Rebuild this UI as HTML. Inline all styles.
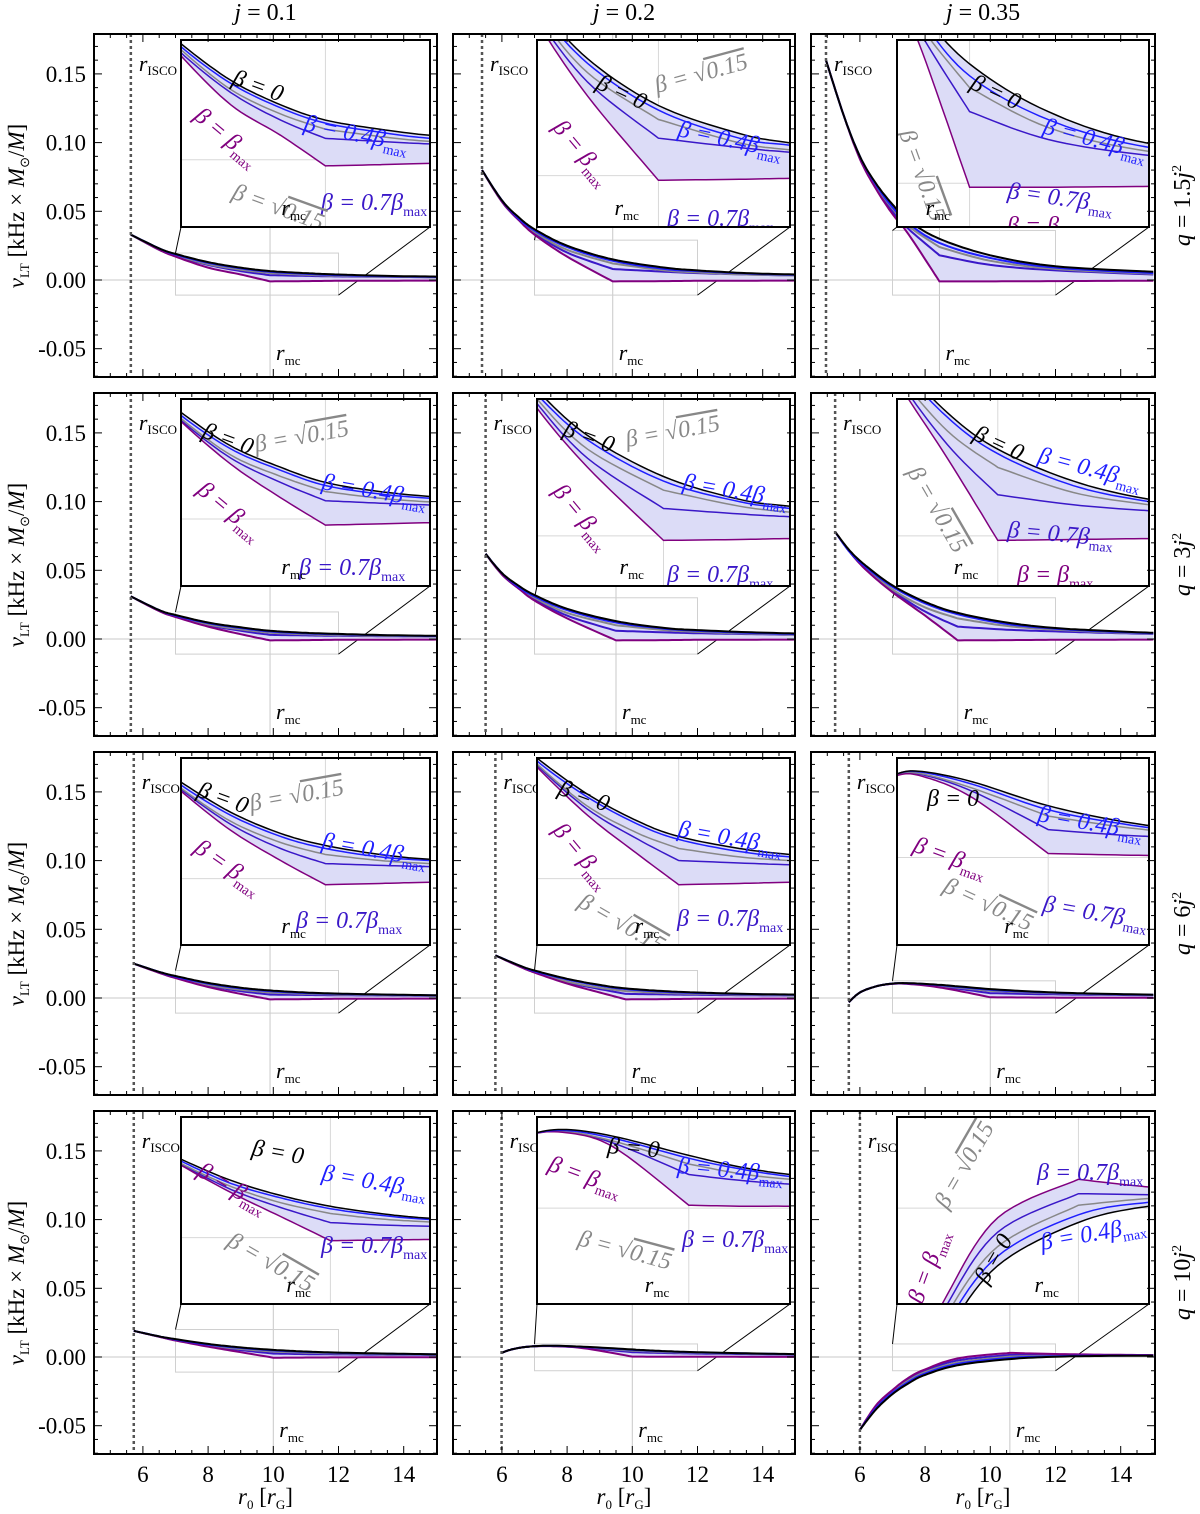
<!DOCTYPE html>
<html><head><meta charset="utf-8"><style>
html,body{margin:0;padding:0;background:#fff;overflow:hidden;width:1200px;height:1514px;}
svg{display:block;}
svg text{font-family:"Liberation Serif","Times New Roman",serif;}
</style></head><body>
<svg id="fig" width="1200" height="1514" viewBox="0 0 1200 1514" overflow="hidden" xmlns="http://www.w3.org/2000/svg"></svg>
<script>
// ---------- data ----------
const colTitles = ["0.1","0.2","0.35"];
const rowTitles = ["1.5","3","6","10"];
const yTickValues = [0.15,0.10,0.05,0.00,-0.05];
const yTickLabels = ["0.15","0.10","0.05","0.00","-0.05"];
const xTickValues = [6,8,10,12,14];
const xTickLabels = ["6","8","10","12","14"];

const P11_r=[5.63,6.5,7,8,9,9.9,11,12,13.5,15];
const P11_black=[.033,.023,.019,.013,.009,.0065,.005,.004,.003,.0025];
const P11_blue=[.033,.023,.0185,.0125,.0085,.006,.0045,.0035,.0027,.0022];
const P11_gray=[.033,.022,.018,.0115,.0075,.005,.0038,.003,.0024,.002];
const P11_dblue=[.033,.022,.0175,.011,.0065,.0035,.003,.0026,.0023,.002];
const P11_purple=[.033,.022,.017,.009,.004,-.001,-.0008,-.0006,-.0005,-.0004];

const P12_r=[5.39,6,6.5,7,8,9.4,11,12,13.5,15];
const P12_black=[.080,.058,.046,.037,.025,.015,.009,.007,.005,.004];
const P12_blue=[.080,.058,.045,.036,.024,.014,.008,.0065,.0047,.0037];
const P12_gray=[.080,.057,.045,.035,.022,.012,.007,.0055,.004,.0033];
const P12_dblue=[.080,.057,.044,.034,.02,.008,.006,.005,.004,.0033];
const P12_purple=[.080,.057,.044,.033,.017,-.001,-.0008,-.0006,-.0005,-.0004];

const P13_r=[4.96,5.5,6,6.5,7,7.5,8.44,10,12,15];
const P13_black=[.16,.12,.09,.07,.055,.043,.03,.018,.01,.006];
const P13_blue=[.16,.12,.09,.069,.053,.041,.027,.016,.009,.005];
const P13_gray=[.16,.12,.089,.068,.052,.039,.024,.014,.008,.0045];
const P13_dblue=[.16,.12,.089,.067,.05,.037,.018,.011,.007,.004];
const P13_purple=[.16,.12,.088,.066,.048,.033,-.001,-.001,-.0008,-.0005];

const P21_r=[5.63,6.5,7,8,9,9.9,11,12,13.5,15];
const P21_black=[.031,.021,.0175,.012,.0085,.006,.0045,.0037,.0028,.0023];
const P21_blue=[.031,.021,.017,.0115,.008,.0055,.0041,.0034,.0026,.0021];
const P21_gray=[.031,.0205,.0165,.0105,.007,.0045,.0034,.0028,.0022,.0019];
const P21_dblue=[.031,.0205,.0162,.01,.006,.003,.0026,.0023,.002,.0018];
const P21_purple=[.031,.0203,.016,.009,.0035,-.001,-.0008,-.0006,-.0005,-.0004];

const P22_r=[5.5,6,6.5,7,8,9.5,11,12,13.5,15];
const P22_black=[.062,.048,.039,.032,.022,.013,.008,.0065,.005,.004];
const P22_blue=[.062,.048,.038,.031,.021,.012,.0075,.006,.0045,.0036];
const P22_gray=[.062,.047,.038,.030,.019,.010,.0065,.0052,.004,.0032];
const P22_dblue=[.062,.047,.037,.029,.017,.006,.0048,.0042,.0036,.003];
const P22_purple=[.062,.047,.037,.028,.015,-.001,-.0008,-.0006,-.0005,-.0004];

const P23_r=[5.24,5.7,6.2,7,8,9,10.5,12,13.5,15];
const P23_black=[.078,.064,.053,.039,.027,.019,.012,.008,.006,.0045];
const P23_blue=[.078,.063,.052,.038,.026,.018,.011,.0075,.0055,.0042];
const P23_gray=[.078,.063,.051,.036,.023,.015,.0095,.0068,.005,.004];
const P23_dblue=[.078,.063,.051,.035,.020,.009,.0068,.0055,.0045,.0037];
const P23_purple=[.078,.063,.05,.034,.017,-.001,-.0008,-.0006,-.0005,-.0004];

const P31_r=[5.72,6.5,7,8,9,9.9,11,12,13.5,15];
const P31_black=[.025,.019,.016,.011,.0075,.0055,.004,.0032,.0025,.002];
const P31_blue=[.025,.019,.0155,.0105,.007,.005,.0036,.003,.0023,.0019];
const P31_gray=[.025,.0185,.015,.0095,.006,.004,.003,.0025,.002,.0017];
const P31_dblue=[.025,.0185,.0148,.009,.005,.0025,.0022,.002,.0018,.0016];
const P31_purple=[.025,.0183,.0145,.008,.003,-.001,-.0008,-.0006,-.0005,-.0004];

const P32_r=[5.8,6.5,7,8,9,9.8,11,12,13.5,15];
const P32_black=[.031,.024,.020,.014,.0095,.007,.005,.004,.003,.0025];
const P32_blue=[.031,.024,.0195,.0135,.009,.0065,.0045,.0036,.0028,.0023];
const P32_gray=[.031,.0235,.019,.012,.0075,.005,.0036,.003,.0024,.002];
const P32_dblue=[.031,.0235,.0188,.0115,.0065,.003,.0026,.0023,.002,.0018];
const P32_purple=[.031,.0233,.0185,.0105,.004,-.001,-.0008,-.0006,-.0005,-.0004];

const P33_r=[5.66,6,6.5,7,7.5,8.5,10,11.5,13,15];
const P33_black=[-.003,.004,.0085,.0105,.0108,.0095,.0065,.0045,.0033,.0024];
const P33_blue=[-.003,.004,.0085,.0105,.0107,.0092,.006,.0042,.0031,.0023];
const P33_gray=[-.003,.004,.0085,.0104,.0105,.0087,.0052,.0038,.0029,.0022];
const P33_dblue=[-.003,.004,.0085,.0104,.0104,.0083,.0035,.0028,.0024,.002];
const P33_purple=[-.003,.004,.0085,.0103,.0102,.0075,.0005,.0003,.0002,.0001];

const P41_r=[5.72,6.5,7,8,9,10,11,12,13.5,15];
const P41_black=[.019,.015,.013,.0095,.007,.0052,.004,.0032,.0025,.002];
const P41_blue=[.019,.015,.0127,.009,.0066,.0048,.0037,.003,.0023,.0019];
const P41_gray=[.019,.0148,.0123,.0085,.0058,.004,.0031,.0026,.002,.0017];
const P41_dblue=[.019,.0148,.0122,.008,.005,.0025,.0021,.0019,.0017,.0015];
const P41_purple=[.019,.0147,.012,.0075,.0035,-.0005,-.0004,-.0003,-.0002,-.0002];

const P42_r=[5.99,6.3,6.8,7.5,8.5,10,11,12,13.5,15];
const P42_black=[.003,.0055,.0075,.0082,.0075,.0055,.0043,.0035,.0027,.0021];
const P42_blue=[.003,.0055,.0075,.0081,.0073,.0052,.0041,.0033,.0026,.002];
const P42_gray=[.003,.0055,.0075,.008,.0070,.0046,.0036,.003,.0024,.0019];
const P42_dblue=[.003,.0055,.0075,.008,.0068,.0035,.0029,.0025,.0021,.0017];
const P42_purple=[.003,.0055,.0075,.0079,.0064,.0003,.0002,.0002,.0001,.0001];

const P43_r=[6.0,6.5,7,7.5,8,9,10.6,12,13.5,15];
const P43_black=[-.053,-.038,-.027,-.019,-.013,-.006,-.0015,.0002,.0008,.001];
const P43_blue=[-.053,-.037,-.026,-.018,-.012,-.005,-.0007,.0006,.001,.0011];
const P43_gray=[-.053,-.036,-.025,-.017,-.011,-.004,.0003,.001,.0012,.0012];
const P43_dblue=[-.053,-.036,-.025,-.016,-.010,-.0025,.0015,.0014,.0013,.0012];
const P43_purple=[-.053,-.035,-.024,-.015,-.009,-.001,.003,.0022,.0017,.0014];

const isco = [5.63,5.39,4.96, 5.63,5.5,5.24, 5.72,5.8,5.66, 5.72,5.99,6.0];
const rmc  = [9.9,9.4,8.44, 9.9,9.5,9.0, 9.9,9.8,10.0, 10.0,10.0,10.6];
const zoomHi = [.0196,.029,.036, .0197,.03,.03, .02,.02,.0125, .02,.0095,.0095];
const zoomLo = [-.011,-.011,-.011, -.011,-.011,-.011, -.011,-.011,-.011, -.011,-.010,-.010];

const panelData = [
 [P11_r,P11_black,P11_blue,P11_gray,P11_dblue,P11_purple],
 [P12_r,P12_black,P12_blue,P12_gray,P12_dblue,P12_purple],
 [P13_r,P13_black,P13_blue,P13_gray,P13_dblue,P13_purple],
 [P21_r,P21_black,P21_blue,P21_gray,P21_dblue,P21_purple],
 [P22_r,P22_black,P22_blue,P22_gray,P22_dblue,P22_purple],
 [P23_r,P23_black,P23_blue,P23_gray,P23_dblue,P23_purple],
 [P31_r,P31_black,P31_blue,P31_gray,P31_dblue,P31_purple],
 [P32_r,P32_black,P32_blue,P32_gray,P32_dblue,P32_purple],
 [P33_r,P33_black,P33_blue,P33_gray,P33_dblue,P33_purple],
 [P41_r,P41_black,P41_blue,P41_gray,P41_dblue,P41_purple],
 [P42_r,P42_black,P42_blue,P42_gray,P42_dblue,P42_purple],
 [P43_r,P43_black,P43_blue,P43_gray,P43_dblue,P43_purple]
];

const insetLabels = [
 [["b0",50,26,20],["b4",122,72,12],["bm",12,60,40],["b7",140,152,0],["g",50,140,20]],
 [["b0",58,30,25],["b4",140,78,12],["bm",15,70,50],["b7",130,168,0],["g",120,35,-15]],
 [["b0",72,30,25],["b4",145,75,15],["b7",110,140,8],["bm",110,175,0],["g",2,75,70]],
 [["b0",20,20,20],["g",75,35,-10],["b4",140,72,10],["bm",15,75,40],["b7",118,158,0]],
 [["b0",25,18,20],["g",90,30,-10],["b4",145,72,10],["bm",15,75,50],["b7",130,165,0]],
 [["b0",75,22,25],["g",10,55,60],["b4",140,45,15],["b7",110,120,5],["bm",120,165,0]],
 [["b0",15,20,20],["g",70,35,-10],["b4",140,72,10],["bm",12,75,35],["b7",115,152,0]],
 [["b0",20,18,20],["b4",140,60,10],["bm",15,55,50],["g",40,130,30],["b7",140,150,0]],
 [["b0",30,30,0],["b4",140,45,10],["bm",15,75,20],["g",45,115,25],["b7",145,135,10]],
 [["b0",70,20,10],["b4",140,45,10],["bm",15,40,30],["g",45,110,30],["b7",140,118,0]],
 [["b0",70,18,5],["b4",140,38,5],["bm",10,35,20],["g",40,110,15],["b7",145,112,0]],
 [["b7",140,45,0],["g",50,75,-60],["bm",25,170,-70],["b4",145,115,-10],["b0",90,150,-60]]
];

const colLeft=[94,453,811], colW=[343,342,344];
const rowTop=[34,393,752,1111], rowH=343;
const insL=[181,537,897], insW=[249,253,252], insH=187;
const COLORS={black:"#000",blue:"#1f1fff",gray:"#888",dblue:"#3a18c8",purple:"#80007f"};
const NAMES=["black","blue","gray","dblue","purple"];
const NS="http://www.w3.org/2000/svg";
const svg=document.getElementById("fig");
function el(tag,attrs,parent){const e=document.createElementNS(NS,tag);for(const k in attrs)e.setAttribute(k,attrs[k]);(parent||svg).appendChild(e);return e;}

function catmull(pts){
  if(pts.length<3)return pts.slice();
  const out=[];
  for(let i=0;i<pts.length-1;i++){
    const p0=pts[Math.max(0,i-1)],p1=pts[i],p2=pts[i+1],p3=pts[Math.min(pts.length-1,i+2)];
    for(let t=0;t<1;t+=1/10){
      const t2=t*t,t3=t2*t;
      out.push([0.5*((2*p1[0])+(-p0[0]+p2[0])*t+(2*p0[0]-5*p1[0]+4*p2[0]-p3[0])*t2+(-p0[0]+3*p1[0]-3*p2[0]+p3[0])*t3),
                0.5*((2*p1[1])+(-p0[1]+p2[1])*t+(2*p0[1]-5*p1[1]+4*p2[1]-p3[1])*t2+(-p0[1]+3*p1[1]-3*p2[1]+p3[1])*t3)]);
    }
  }
  out.push(pts[pts.length-1]);return out;
}
function curvePts(rs,vs,mx,my,kink){
  const pts=rs.map((r,i)=>[mx(r),my(vs[i])]);
  if(kink>0&&kink<pts.length-1){
    const a=catmull(pts.slice(0,kink+1)),b=catmull(pts.slice(kink));
    return a.concat(b.slice(1));
  }
  return catmull(pts);
}
function poly(pts){return "M"+pts.map(p=>p[0].toFixed(1)+","+p[1].toFixed(1)).join("L");}

function drawSeries(g,p,rs,data,mx,my,wMain){
  const k=rs.indexOf(rmc[p]);
  const all=NAMES.map((n,i)=>curvePts(rs,data[i],mx,my,i>=2?k:-1));
  const fillPts=all[0].concat(all[4].slice().reverse());
  const f=el("path",{d:poly(fillPts)+"Z",fill:"#dcdcf7",stroke:"none"},g);
  
  
  [3,2,4,1,0].forEach(i=>{
    const s=el("path",{d:poly(all[i]),fill:"none",stroke:COLORS[NAMES[i]],"stroke-width":wMain},g);
    
    
  });
}

function label(g,type,x,y,rot){
  const t=el("text",{x:x,y:y,"font-size":24,transform:`rotate(${rot} ${x} ${y})`,"font-style":"italic"},g);
  let col;
  if(type==="b0"){col="#000";t.textContent="β = 0";}
  else if(type==="g"){col="#888";t.innerHTML='β = √<tspan style="text-decoration:overline">0.15</tspan>';}
  else{
    col=type==="bm"?COLORS.purple:(type==="b4"?COLORS.blue:COLORS.dblue);
    const coef=type==="b4"?"0.4":(type==="b7"?"0.7":"");
    t.innerHTML=`β = ${coef}β<tspan font-size="14" font-style="normal" dy="6">max</tspan>`;
  }
  t.setAttribute("fill",col);
  
  
}

for(let p=0;p<12;p++){
  const row=Math.floor(p/3),c=p%3;
  const L=colLeft[c],T=rowTop[row],W=colW[c];
  const zeroY=T+246;
  const mx=r=>L+(r-4.5)*32.6, my=v=>zeroY-v*1374;
  const [rs,...data]=panelData[p];
  const g=el("g",{});
  
  
  const cid="clip"+p;
  const cp=el("clipPath",{id:cid},g);el("rect",{x:L,y:T,width:W,height:rowH},cp);
  const inner=el("g",{"clip-path":`url(#${cid})`},g);
  el("line",{x1:L,x2:L+W,y1:zeroY,y2:zeroY,stroke:"#c8c8c8","stroke-width":1},inner);
  el("line",{x1:mx(rmc[p]),x2:mx(rmc[p]),y1:T,y2:T+rowH,stroke:"#c8c8c8","stroke-width":1},inner);
  const zx1=mx(7),zx2=mx(12),zy1=my(zoomHi[p]),zy2=my(zoomLo[p]);
  const zr=el("rect",{x:zx1,y:zy1,width:zx2-zx1,height:zy2-zy1,fill:"none",stroke:"#d0d0d0","stroke-width":1},inner);
  
  
  const iL=insL[c],iT=T+6,iW=insW[c];
  el("line",{x1:zx1,y1:zy1,x2:iL,y2:iT+insH,stroke:"#000","stroke-width":1},inner);
  el("line",{x1:zx2,y1:zy2,x2:iL+iW,y2:iT+insH,stroke:"#000","stroke-width":1},inner);
  drawSeries(inner,p,rs,data,mx,my,2);
  const il=el("line",{x1:mx(isco[p]),x2:mx(isco[p]),y1:T,y2:T+rowH,stroke:"#555","stroke-width":2.5,"stroke-dasharray":"3,3"},inner);
  
  
  const ti=el("text",{x:mx(isco[p])+8,y:T+37,"font-size":22,"font-style":"italic"},g);
  ti.innerHTML='r<tspan font-size="13" font-style="normal" dy="4">ISCO</tspan>';
  
  
  const tm=el("text",{x:mx(rmc[p])+6,y:T+rowH-17,"font-size":22,"font-style":"italic"},g);
  tm.innerHTML='r<tspan font-size="13" font-style="normal" dy="5">mc</tspan>';
  
  
  const ig=el("g",{},g);
  
  
  el("rect",{x:iL,y:iT,width:iW,height:insH,fill:"#fff",stroke:"none"},ig);
  const icid="iclip"+p;
  const icp=el("clipPath",{id:icid},ig);el("rect",{x:iL,y:iT,width:iW,height:insH},icp);
  const iin=el("g",{"clip-path":`url(#${icid})`},ig);
  const ix=r=>iL+(r-7)/5*iW, iy=v=>iT+(zoomHi[p]-v)/(zoomHi[p]-zoomLo[p])*insH;
  el("line",{x1:iL,x2:iL+iW,y1:iy(0),y2:iy(0),stroke:"#d8d8d8","stroke-width":1},iin);
  el("line",{x1:ix(rmc[p]),x2:ix(rmc[p]),y1:iT,y2:iT+insH,stroke:"#d8d8d8","stroke-width":1},iin);
  drawSeries(iin,p,rs,data,ix,iy,1.5);
  insetLabels[p].forEach(a=>label(iin,a[0],iL+a[1],iT+a[2]+18,a[3]));
  const im=el("text",{x:ix(rmc[p])-44,y:iT+insH-12,"font-size":22,"font-style":"italic"},ig);
  im.innerHTML='r<tspan font-size="13" font-style="normal" dy="5">mc</tspan>';
  
  
  el("rect",{x:iL,y:iT,width:iW,height:insH,fill:"none",stroke:"#000","stroke-width":2},ig);
  for(let r=5;r<15;r+=0.5){
    const len=(Math.abs(r%2)<1e-6)?8:4;
    el("line",{x1:mx(r),x2:mx(r),y1:T+rowH,y2:T+rowH-len,stroke:"#000","stroke-width":1},g);
    el("line",{x1:mx(r),x2:mx(r),y1:T,y2:T+len,stroke:"#000","stroke-width":1},g);
  }
  for(let i=-7;i<=17;i++){
    const v=i*0.01,y=my(v);
    if(y<=T||y>=T+rowH)continue;
    const len=(i%5===0)?8:4;
    el("line",{x1:L,x2:L+len,y1:y,y2:y,stroke:"#000","stroke-width":1},g);
    el("line",{x1:L+W,x2:L+W-len,y1:y,y2:y,stroke:"#000","stroke-width":1},g);
  }
  const fr=el("rect",{x:L,y:T,width:W,height:rowH,fill:"none",stroke:"#000","stroke-width":2},g);
  
  
  if(c===0){
    yTickValues.forEach((v,i)=>{
      const t=el("text",{x:L-8,y:my(v)+8,"font-size":23,"text-anchor":"end"},g);
      t.textContent=yTickLabels[i];
      
      
    });
    const yl=el("text",{x:0,y:0,"font-size":23,"text-anchor":"middle",transform:`translate(24 ${T+172}) rotate(-90)`},g);
    yl.innerHTML='<tspan font-style="italic">ν</tspan><tspan font-size="13" dy="5">LT</tspan><tspan dy="-5"> [kHz × </tspan><tspan font-style="italic">M</tspan><tspan font-size="13" dy="5">⊙</tspan><tspan dy="-5">/</tspan><tspan font-style="italic">M</tspan>]';
    
    
  }
  if(row===3){
    xTickValues.forEach((v,i)=>{
      const t=el("text",{x:mx(v),y:1482,"font-size":23,"text-anchor":"middle"},g);
      t.textContent=xTickLabels[i];
      
      
    });
    const xl=el("text",{x:L+W/2,y:1504,"font-size":23,"text-anchor":"middle"},g);
    xl.innerHTML='<tspan font-style="italic">r</tspan><tspan font-size="13" dy="5">0</tspan><tspan dy="-5"> [</tspan><tspan font-style="italic">r</tspan><tspan font-size="13" dy="5">G</tspan><tspan dy="-5">]</tspan>';
    
    
  }
  if(row===0){
    const ct=el("text",{x:L+W/2,y:20,"font-size":24,"text-anchor":"middle"},g);
    ct.innerHTML='<tspan font-style="italic">j</tspan> = '+colTitles[c];
    
    
  }
  if(c===2){
    const rt=el("text",{x:0,y:0,"font-size":24,"text-anchor":"middle",transform:`translate(1190 ${T+rowH/2}) rotate(-90)`},g);
    rt.innerHTML='<tspan font-style="italic">q</tspan> = '+rowTitles[row]+'<tspan font-style="italic">j</tspan><tspan font-size="14" dy="-9">2</tspan>';
    
    
  }
}
</script>
</body></html>
